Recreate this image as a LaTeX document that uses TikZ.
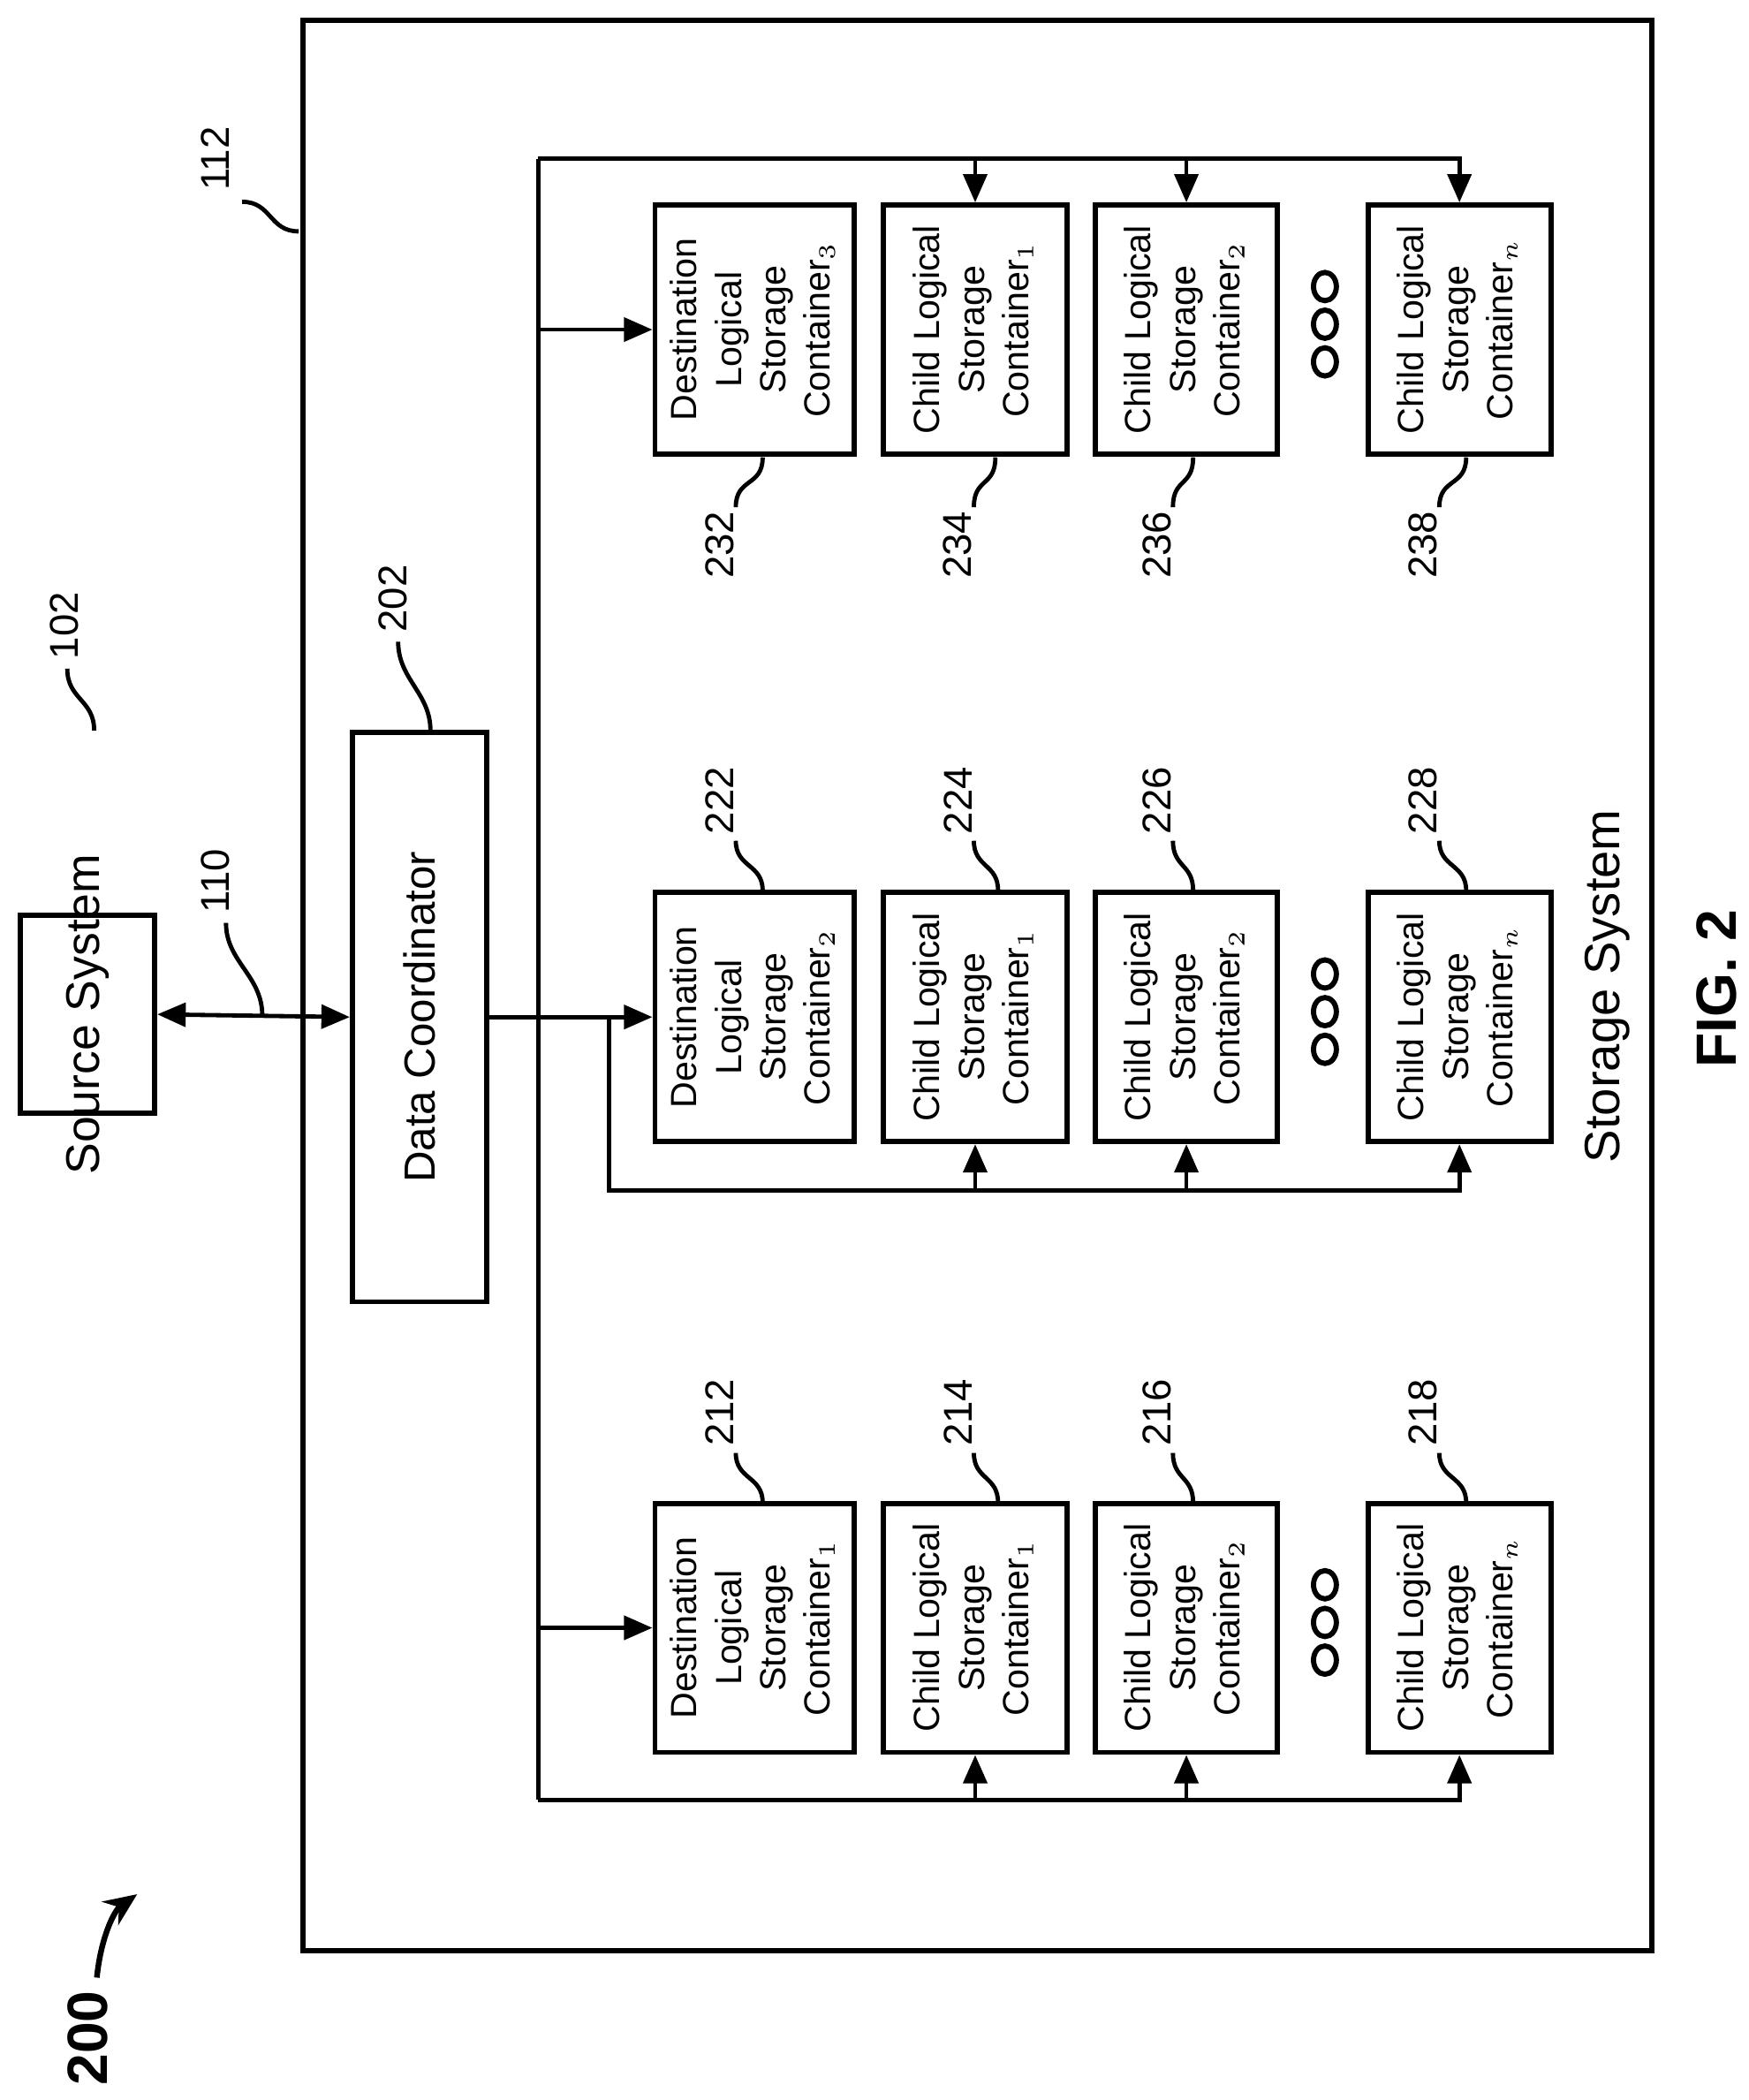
\documentclass[tikz,border=0pt]{standalone}
\usepackage{fontspec}
\setmainfont{Liberation Sans}
\usetikzlibrary{arrows.meta}
\begin{document}
\begin{tikzpicture}[x=0.01cm,y=-0.01cm,
  bx/.style={draw,line width=1.1pt,inner sep=0pt,font=\fontsize{7.7}{9.4}\selectfont},
  ln/.style={line width=0.9pt},
  arr/.style={ln,-{Triangle[length=6pt,width=5pt]}},
  lab/.style={font=\fontsize{8.5}{10}\selectfont,rotate=90},
  sq/.style={line width=0.9pt}]
\useasboundingbox (0,0) rectangle (1300,1561);
\draw[line width=1.1pt] (225,15) rectangle (1228,1450);
\newcommand{\rt}[1]{\rotatebox{90}{\begin{tabular}{@{}c@{}}#1\end{tabular}}}
\node[bx,minimum width=100\pgflinewidth,text width=0pt] at (-100,-100) {};
% source & coordinator
\node[bx,minimum width=2.84cm*0.352,minimum height=4.18cm*0.352] (src) at (65,754) {};
\node[font=\fontsize{10}{12}\selectfont,rotate=90] at (src) {Source System};
\node[draw,line width=1.1pt,minimum width=1cm,minimum height=4.23cm,inner sep=0pt] (dc) at (312,756) {};
\node[font=\fontsize{9.2}{11}\selectfont,rotate=90] at (dc) {Data Coordinator};
% containers
\foreach \g/\y/\s in {3/245/3,2/756/2,1/1210/1}{
  \node[bx,minimum width=1.48cm,minimum height=1.85cm] (d\g) at (561,\y) {\rt{Destination\\Logical\\Storage\\Container$_{\s}$}};
  \node[bx,minimum width=1.36cm,minimum height=1.85cm] (c\g1) at (725,\y) {\rt{Child Logical\\Storage\\Container$_{1}$}};
  \node[bx,minimum width=1.35cm,minimum height=1.85cm] (c\g2) at (882,\y) {\rt{Child Logical\\Storage\\Container$_{2}$}};
  \node[bx,minimum width=1.36cm,minimum height=1.85cm] (c\g n) at (1085,\y) {\rt{Child Logical\\Storage\\Container$_{n}$}};
  \foreach \k in {-28,0,28}{
    \draw[line width=1.1pt] (985,\y+\k-4) ellipse [x radius=8.5,y radius=10.5];
  }
}
% wiring top/bottom
\coordinate (t) at (400,118);
\coordinate (bt) at (400,1338);
\draw[ln] (t) -- (bt);
\draw[arr] (t) -| (c3n.north);
\draw[arr] (c31.north|-t) -- (c31.north);
\draw[arr] (c32.north|-t) -- (c32.north);
\draw[arr] (t|-d3.west) -- (d3.west);
\draw[arr] (t|-d1.west) -- (d1.west);
\draw[arr] (bt) -| (c1n.south);
\draw[arr] (c11.south|-bt) -- (c11.south);
\draw[arr] (c12.south|-bt) -- (c12.south);
% middle group
\draw[arr] (dc.east) -- (d2.west);
\coordinate (br) at (453,756);
\coordinate (bb) at (453,885);
\draw[arr] (br) -- (bb) -| (c2n.south);
\draw[arr] (c21.south|-bb) -- (c21.south);
\draw[arr] (c22.south|-bb) -- (c22.south);
\draw[ln,{Triangle[length=6pt,width=5pt]}-{Triangle[length=6pt,width=5pt]}] (src.east) -- (dc.west);
% labels
\foreach \x/\bx/\t in {535/567/232,712/740/234,860/887/236,1058/1090/238}{
  \node[lab] at (\x,405) {\t};
  \draw[sq] (\bx,340) .. controls (\bx,362) and (\x+12,355) .. (\x+12,377);
}
\foreach \x/\bx/\t/\y/\b in {535/567/22/595/662,712/742/24/595/662,860/887/26/595/662,1058/1090/28/595/662,
                            535/567/12/1050/1117,712/742/14/1050/1117,860/887/16/1050/1117,1058/1090/18/1050/1117}{
  \node[lab] at (\x,\y) {2\t};
  \draw[sq] (\bx,\b) .. controls (\bx,\b-20) and (\x+12,\y+50) .. (\x+12,\y+30);
}
\node[lab] at (48,465) {102};
\draw[sq] (70,543) .. controls (70,520) and (50,520) .. (50,497);
\node[lab] at (292,445) {202};
\draw[sq] (320,543) .. controls (320,515) and (296,505) .. (296,477);
\node[lab] at (160,655) {110};
\draw[sq] (195,755) .. controls (195,725) and (168,715) .. (168,686);
\node[lab] at (160,118) {112};
\draw[sq] (222,172) .. controls (200,172) and (202,150) .. (180,150);
\node[font=\fontsize{10.5}{12}\selectfont,rotate=90] at (1195,733) {Storage System};
\node[font=\bfseries\fontsize{12}{14}\selectfont,rotate=90] at (1276,735) {FIG. 2};
\node[font=\bfseries\fontsize{12}{14}\selectfont,rotate=90] at (65,1515) {200};
\draw[line width=1.2pt,-{Stealth[length=7pt,width=6pt]}] (72,1470) .. controls (75,1440) and (85,1420) .. (102,1408);
\end{tikzpicture}
\end{document}
